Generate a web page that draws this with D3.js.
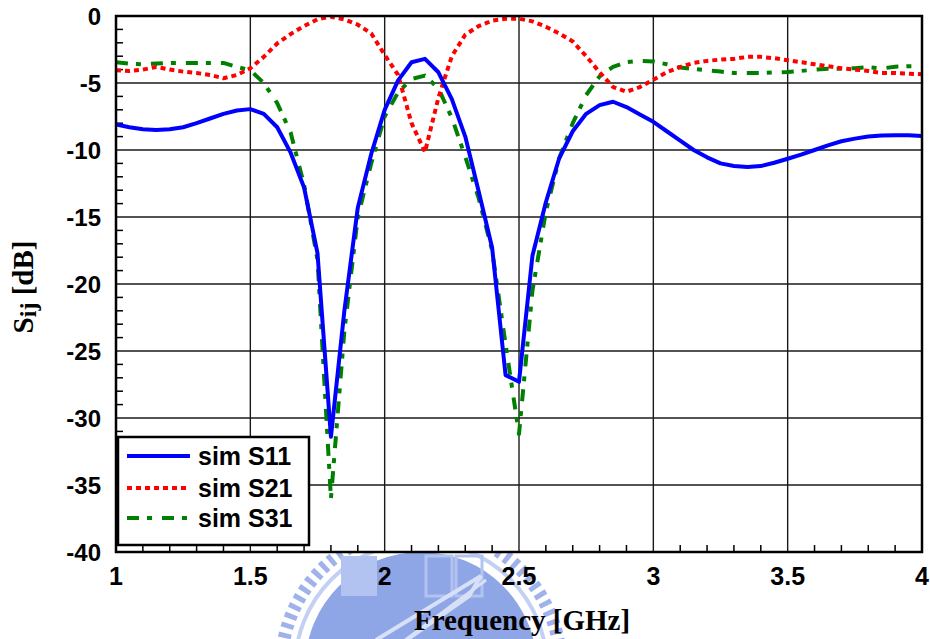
<!DOCTYPE html>
<html>
<head>
<meta charset="utf-8">
<script src="https://cdn.jsdelivr.net/npm/d3@7/dist/d3.min.js"></script>
<style>
  html, body { margin: 0; padding: 0; background: #fff; }
  svg { display: block; }
</style>
</head>
<body>
<script>
// Frequency sweep (GHz), 0.05 GHz step
const freq = d3.range(0, 61).map(i => +(1 + i * 0.05).toFixed(2));

// Simulated S-parameters in dB
const s11 = [
  -8.1, -8.3, -8.45, -8.5, -8.45, -8.3, -8.0, -7.65, -7.3, -7.05,
  -6.95, -7.3, -8.3, -10.2, -12.8, -17.7, -31.4, -22.0, -14.3, -10.3,
  -7.0, -4.8, -3.45, -3.2, -4.2, -6.2, -9.0, -13.1, -17.3, -26.8,
  -27.3, -17.9, -13.9, -10.6, -8.6, -7.3, -6.65, -6.4, -6.8, -7.35,
  -7.9, -8.6, -9.3, -10.0, -10.55, -11.0, -11.2, -11.27, -11.2, -10.95,
  -10.65, -10.35, -10.0, -9.65, -9.35, -9.15, -9.0, -8.92, -8.9, -8.9,
  -8.95
];
const s21 = [
  -4.05, -4.1, -4.0, -3.8, -4.0, -4.15, -4.25, -4.4, -4.65, -4.4,
  -3.9, -3.05, -2.05, -1.35, -0.75, -0.25, -0.05, -0.25, -0.65, -1.3,
  -2.9, -4.4, -8.0, -10.15, -6.1, -3.0, -1.4, -0.75, -0.35, -0.2,
  -0.2, -0.4, -0.8, -1.3, -1.9, -3.0, -4.2, -5.3, -5.65, -5.3,
  -4.75, -4.2, -3.8, -3.5, -3.35, -3.25, -3.2, -3.05, -3.05, -3.15,
  -3.3, -3.45, -3.6, -3.75, -3.9, -4.0, -4.1, -4.25, -4.25, -4.3,
  -4.35
];
const s31 = [
  -3.45, -3.55, -3.6, -3.55, -3.5, -3.5, -3.5, -3.5, -3.5, -3.8,
  -4.05, -5.0, -6.5, -8.7, -12.6, -18.2, -36.0, -23.5, -15.0, -11.0,
  -7.5, -5.7, -4.7, -4.45, -5.4, -7.6, -10.5, -13.6, -17.5, -24.5,
  -31.2, -20.5, -14.6, -10.6, -8.0, -5.9, -4.5, -3.8, -3.45, -3.35,
  -3.4, -3.6, -3.85, -3.95, -4.05, -4.15, -4.25, -4.25, -4.25, -4.2,
  -4.18, -4.1, -4.0, -3.93, -3.93, -3.9, -3.82, -3.92, -3.78, -3.75,
  -3.75
];

const seriesNames = ["sim S11", "sim S21", "sim S31"];
const xTicks = [1, 1.5, 2, 2.5, 3, 3.5, 4];
const xTickLabels = ["1", "1.5", "2", "2.5", "3", "3.5", "4"];
const yTicks = [0, -5, -10, -15, -20, -25, -30, -35, -40];
const yTickLabels = ["0", "-5", "-10", "-15", "-20", "-25", "-30", "-35", "-40"];

const W = 930, H = 639;
const plot = { left: 116, right: 922, top: 16, bottom: 552 };

const series = [
  { name: seriesNames[0], values: s11, color: "#0000ff", dash: null },
  { name: seriesNames[1], values: s21, color: "#ff0000", dash: "5,4" },
  { name: seriesNames[2], values: s31, color: "#008000", dash: "12,8,5,10" }
];

const svg = d3.select("body").append("svg")
  .attr("width", W).attr("height", H);

// University seal watermark behind the lower axis
const wm = svg.append("g").attr("transform", "translate(421,668)");
wm.append("circle").attr("r", 140).attr("fill", "none")
  .attr("stroke", "#9fb3ea").attr("stroke-width", 13)
  .attr("stroke-dasharray", "5,5");
wm.append("circle").attr("r", 126).attr("fill", "none")
  .attr("stroke", "#c3d0f3").attr("stroke-width", 4);
wm.append("circle").attr("r", 116).attr("fill", "#8ea6e6");
wm.append("rect").attr("x", -80).attr("y", -112).attr("width", 36).attr("height", 40)
  .attr("fill", "#b3c3f1");
wm.append("rect").attr("x", 5).attr("y", -112).attr("width", 26).attr("height", 40)
  .attr("fill", "none").attr("stroke", "#b3c3f1").attr("stroke-width", 3);
wm.append("rect").attr("x", 35).attr("y", -112).attr("width", 26).attr("height", 40)
  .attr("fill", "none").attr("stroke", "#b3c3f1").attr("stroke-width", 3);
wm.append("path").attr("d", "M-45,-28 L60,-92 L48,-72 L-40,-10")
  .attr("fill", "none").attr("stroke", "#d8e0f7").attr("stroke-width", 4);
wm.append("path").attr("d", "M-40,-10 L65,-88")
  .attr("fill", "none").attr("stroke", "#d8e0f7").attr("stroke-width", 3);

const x = d3.scaleLinear().domain([1, 4]).range([plot.left, plot.right]);
const y = d3.scaleLinear().domain([-40, 0]).range([plot.bottom, plot.top]);

// Plot background
svg.append("rect")
  .attr("x", plot.left).attr("y", plot.top)
  .attr("width", plot.right - plot.left).attr("height", plot.bottom - plot.top)
  .attr("fill", "#fff");

// Major grid
const grid = svg.append("g").attr("stroke", "#1a1a1a").attr("stroke-width", 1.4);
grid.selectAll("line.gx").data(xTicks.slice(1, -1)).join("line")
  .attr("x1", d => x(d)).attr("x2", d => x(d))
  .attr("y1", plot.top).attr("y2", plot.bottom);
grid.selectAll("line.gy").data(yTicks.slice(1, -1)).join("line")
  .attr("x1", plot.left).attr("x2", plot.right)
  .attr("y1", d => y(d)).attr("y2", d => y(d));

// Minor ticks (inside) on left and bottom
const minorY = d3.range(-39, 0).filter(v => v % 5 !== 0);
const minorX = d3.range(11, 40).map(v => v / 10).filter(v => Math.round(v * 10) % 5 !== 0);
const minor = svg.append("g").attr("stroke", "#000").attr("stroke-width", 1.5);
minor.selectAll("line.my").data(minorY).join("line")
  .attr("x1", plot.left).attr("x2", plot.left + 7)
  .attr("y1", d => y(d)).attr("y2", d => y(d));
minor.selectAll("line.mx").data(minorX).join("line")
  .attr("x1", d => x(d)).attr("x2", d => x(d))
  .attr("y1", plot.bottom).attr("y2", plot.bottom - 7);

// Curves
svg.append("clipPath").attr("id", "plotclip").append("rect")
  .attr("x", plot.left).attr("y", plot.top - 2)
  .attr("width", plot.right - plot.left).attr("height", plot.bottom - plot.top + 2);

const line = d3.line()
  .x((d, i) => x(freq[i]))
  .y(d => y(d));

const curves = svg.append("g").attr("clip-path", "url(#plotclip)");
// draw S31 first, then S21, then S11 on top
[series[2], series[1], series[0]].forEach(s => {
  curves.append("path")
    .attr("d", line(s.values))
    .attr("fill", "none")
    .attr("stroke", s.color)
    .attr("stroke-width", 4)
    .attr("stroke-linejoin", "round")
    .attr("stroke-dasharray", s.dash);
});

// Frame
svg.append("rect")
  .attr("x", plot.left).attr("y", plot.top)
  .attr("width", plot.right - plot.left).attr("height", plot.bottom - plot.top)
  .attr("fill", "none").attr("stroke", "#000").attr("stroke-width", 2.5);

// Tick labels
const tickFont = "'Liberation Sans', Arial, sans-serif";
svg.append("g").selectAll("text").data(yTicks).join("text")
  .attr("x", 101).attr("y", d => y(d))
  .attr("dy", "0.36em")
  .attr("text-anchor", "end")
  .attr("font-family", tickFont).attr("font-weight", "bold").attr("font-size", 24)
  .text((d, i) => yTickLabels[i]);
svg.append("g").selectAll("text").data(xTicks).join("text")
  .attr("x", d => x(d)).attr("y", 585)
  .attr("text-anchor", "middle")
  .attr("font-family", tickFont).attr("font-weight", "bold").attr("font-size", 25)
  .text((d, i) => xTickLabels[i]);

// Axis titles
const titleFont = "'Liberation Serif', 'Times New Roman', serif";
svg.append("text")
  .attr("x", 522).attr("y", 630)
  .attr("text-anchor", "middle")
  .attr("font-family", titleFont).attr("font-weight", "bold").attr("font-size", 29)
  .text("Frequency [GHz]");
const yt = svg.append("text")
  .attr("transform", "translate(33,287) rotate(-90)")
  .attr("text-anchor", "middle")
  .attr("font-family", titleFont).attr("font-weight", "bold").attr("font-size", 29);
yt.append("tspan").text("S");
yt.append("tspan").attr("font-size", 24).attr("dy", 3).text("ij");
yt.append("tspan").attr("dy", -3).text(" [dB]");

// Legend
const lg = svg.append("g");
lg.append("rect")
  .attr("x", 118).attr("y", 437).attr("width", 191).attr("height", 108)
  .attr("fill", "#fff").attr("stroke", "#000").attr("stroke-width", 2.5);
const rowsY = [456, 488, 518];
series.forEach((s, i) => {
  lg.append("line")
    .attr("x1", 127).attr("x2", 190)
    .attr("y1", rowsY[i]).attr("y2", rowsY[i])
    .attr("stroke", s.color).attr("stroke-width", 4)
    .attr("stroke-dasharray", s.dash);
  lg.append("text")
    .attr("x", 198).attr("y", rowsY[i] + 9)
    .attr("font-family", tickFont).attr("font-weight", "bold").attr("font-size", 25)
    .text(s.name);
});
</script>
</body>
</html>
